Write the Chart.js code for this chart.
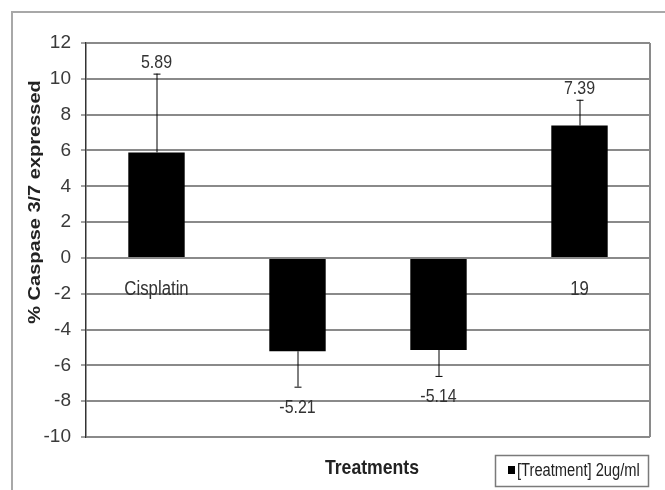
<!DOCTYPE html>
<html><head><meta charset="utf-8">
<script src="https://cdn.jsdelivr.net/npm/chart.js@4/dist/chart.umd.min.js"></script>
<style>
html,body{margin:0;padding:0;background:#fff;}
#wrap{position:relative;width:665px;height:490px;}
#frame{position:absolute;left:11px;top:11px;width:670px;height:500px;border:2px solid #a8a8a8;box-sizing:border-box;}
canvas{position:absolute;left:0;top:0;}
</style></head>
<body>
<div id="wrap"><div id="frame"></div><canvas id="c" width="665" height="490"></canvas></div>
<script>
const categories = ["Cisplatin", "", "", "19"];
const values = [5.89, -5.21, -5.14, 7.39];
const errors = [4.4, 1.98, 1.45, 1.44];
const yTicks = [12, 10, 8, 6, 4, 2, 0, -2, -4, -6, -8, -10];
const seriesName = "[Treatment] 2ug/ml";
const xTitle = "Treatments";
const yTitle = "% Caspase 3/7 expressed";

const FONT = "'Liberation Sans', Arial, sans-serif";
const NARROW = "'Liberation Sans Narrow', 'Arial Narrow', 'Liberation Sans', sans-serif";
const SX = 0.84;

function squeezedText(ctx, txt, x, y, font, color, align) {
  ctx.save();
  ctx.font = font;
  ctx.fillStyle = color;
  ctx.textAlign = align || 'center';
  ctx.textBaseline = 'middle';
  ctx.translate(x, y);
  ctx.scale(SX, 1);
  ctx.fillText(txt, 0, 0);
  ctx.restore();
}

const extras = {
  id: 'extras',
  beforeDatasetsDraw(chart) {
    const ctx = chart.ctx, x = chart.scales.x, y = chart.scales.y;
    categories.forEach((c, i) => {
      squeezedText(ctx, c, x.getPixelForValue(i), y.getPixelForValue(0) + 32, '20px ' + FONT, '#333');
    });
    ctx.save();
    ctx.strokeStyle = '#8a8a8a';
    ctx.lineWidth = 2;
    ctx.beginPath();
    ctx.moveTo(chart.chartArea.right, chart.chartArea.top);
    ctx.lineTo(chart.chartArea.right, chart.chartArea.bottom);
    ctx.stroke();
    ctx.restore();
  },
  afterDatasetsDraw(chart) {
    const ctx = chart.ctx, y = chart.scales.y;
    const meta = chart.getDatasetMeta(0);
    ctx.save();
    ctx.strokeStyle = '#000';
    ctx.lineWidth = 1;
    meta.data.forEach((bar, i) => {
      const v = values[i];
      const end = v >= 0 ? v + errors[i] : v - errors[i];
      const y0 = y.getPixelForValue(v), y1 = y.getPixelForValue(end);
      ctx.beginPath();
      ctx.moveTo(bar.x + 0.5, y0);
      ctx.lineTo(bar.x + 0.5, y1);
      ctx.moveTo(bar.x - 3, y1 + 0.5);
      ctx.lineTo(bar.x + 4, y1 + 0.5);
      ctx.stroke();
      const ly = v >= 0 ? y1 - 11 : y1 + 21;
      squeezedText(ctx, v.toFixed(2), bar.x, ly, '19px ' + FONT, '#333');
    });
    const a = chart.chartArea;
    squeezedText(ctx, xTitle, (a.left + a.right) / 2 + 4, 468, 'bold 21px ' + FONT, '#222');
    ctx.save();
    ctx.translate(35, 202);
    ctx.rotate(-Math.PI / 2);
    ctx.font = 'bold 20px ' + FONT;
    ctx.fillStyle = '#222';
    ctx.textAlign = 'center';
    ctx.textBaseline = 'middle';
    ctx.scale(1, SX);
    ctx.fillText(yTitle, 0, 0);
    ctx.restore();
    // legend
    ctx.fillStyle = '#fff';
    ctx.fillRect(495, 455, 154, 32);
    ctx.strokeStyle = '#7a7a7a';
    ctx.lineWidth = 1.5;
    ctx.strokeRect(495.5, 455.5, 153, 31);
    ctx.fillStyle = '#000';
    ctx.fillRect(508, 466, 7, 8);
    ctx.restore();
    squeezedText(ctx, seriesName, 517, 471, '17.5px ' + FONT, '#222', 'left');
  }
};

new Chart(document.getElementById('c'), {
  type: 'bar',
  data: {
    labels: categories,
    datasets: [{
      label: seriesName,
      data: values,
      backgroundColor: '#000',
      borderWidth: 0,
      barPercentage: 0.4,
      categoryPercentage: 1.0
    }]
  },
  options: {
    responsive: false,
    animation: false,
    layout: { padding: { top: 43, right: 15, bottom: 53, left: 0 } },
    plugins: { legend: { display: false }, tooltip: { enabled: false } },
    scales: {
      x: { display: false },
      y: {
        min: -10, max: 12,
        afterBuildTicks(s) { s.ticks = yTicks.map(v => ({ value: v })); },
        afterFit(s) { s.width = 86; },
        ticks: { color: '#3a3a3a', font: { family: NARROW, size: 19 }, padding: 10 },
        grid: { color: '#8a8a8a', lineWidth: 2, tickLength: 5, tickColor: '#444', tickWidth: 1 },
        border: { display: true, color: '#333', width: 1.5 }
      }
    }
  },
  plugins: [extras]
});
</script>
</body></html>
